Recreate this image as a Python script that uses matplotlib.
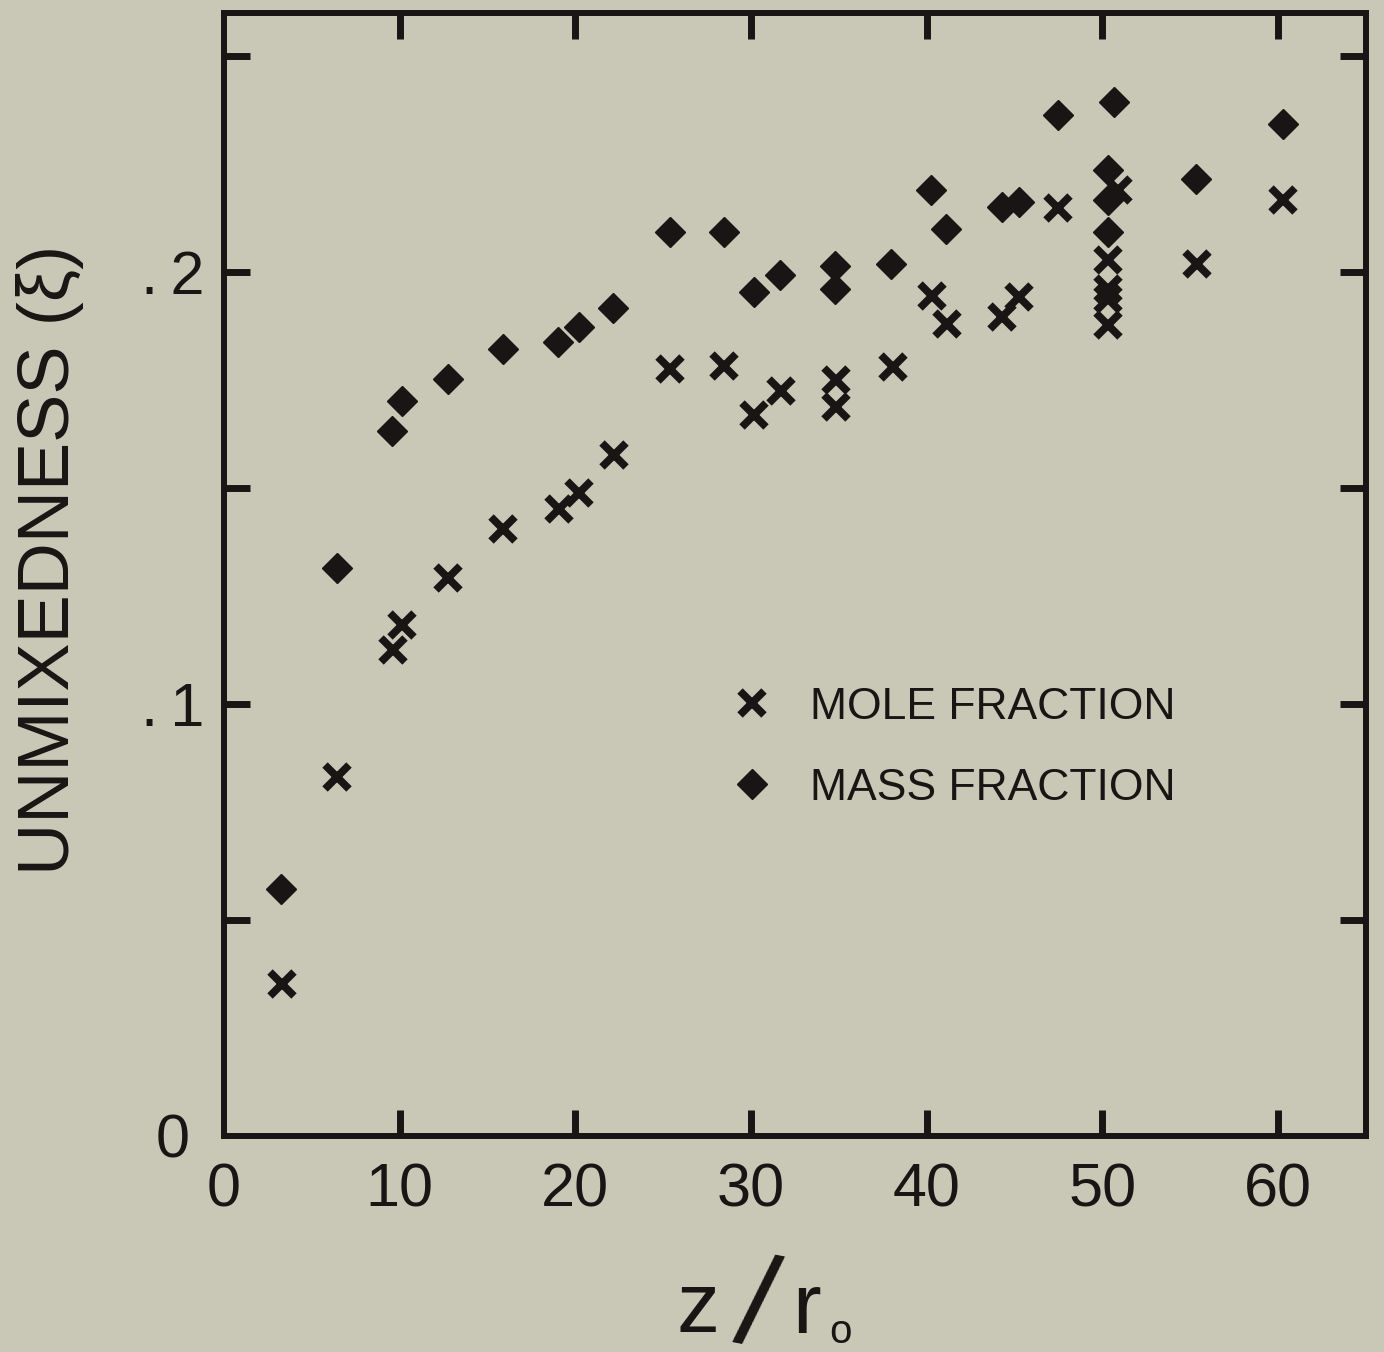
import matplotlib
matplotlib.use('Agg')
import matplotlib.pyplot as plt
from matplotlib import font_manager

# mass fraction (diamonds)
mass_z = [3.25, 6.42, 9.59, 10.12, 12.75, 15.86, 19.01, 20.19, 22.15, 25.36,
          28.47, 30.16, 31.66, 34.78, 34.78, 37.99, 40.23, 41.12, 44.31, 45.26,
          47.45, 50.64, 50.30, 50.30, 50.33, 55.33, 60.30]
mass_xi = [0.0573, 0.1314, 0.1633, 0.1701, 0.1753, 0.1821, 0.1839, 0.1872, 0.1916, 0.2093,
           0.2093, 0.1953, 0.1993, 0.2014, 0.1960, 0.2019, 0.2191, 0.2101, 0.2151, 0.2163,
           0.2363, 0.2394, 0.2236, 0.2167, 0.2093, 0.2215, 0.2344]

# mole fraction (crosses)
mole_z = [3.29, 6.46, 9.61, 10.12, 12.73, 15.86, 19.09, 20.19, 22.18, 25.37,
          28.47, 30.16, 31.72, 34.81, 34.81, 38.08, 40.28, 41.14, 44.31, 45.26,
          47.45, 50.90, 50.33, 50.33, 50.33, 50.33, 55.37, 60.27]
mole_xi = [0.0352, 0.0832, 0.1125, 0.1183, 0.1293, 0.1405, 0.1452, 0.1489, 0.1576, 0.1775,
           0.1783, 0.1669, 0.1725, 0.1750, 0.1688, 0.1781, 0.1944, 0.1881, 0.1897, 0.1943,
           0.2149, 0.2190, 0.2028, 0.1962, 0.1939, 0.1877, 0.2020, 0.2167]

x_ticks = [0, 10, 20, 30, 40, 50, 60]
y_ticks = [0, 0.05, 0.1, 0.15, 0.2, 0.25]
y_ticklabels = ['0', '', '.\u20091', '', '.\u20092', '']

BG = '#c9c8b6'
INK = '#181514'

W, H = 1384, 1352
plt.rcParams['font.family'] = ['Liberation Sans', 'DejaVu Sans']

available = {f.name for f in font_manager.fontManager.ttflist}
if 'Liberation Sans Narrow' in available:
    ylab_family, ylab_size = ['Liberation Sans Narrow', 'DejaVu Sans'], 57
else:
    ylab_family, ylab_size = ['Liberation Sans', 'DejaVu Sans'], 52

fig = plt.figure(figsize=(W / 100, H / 100), dpi=100, facecolor=BG)
ax = fig.add_axes([224 / W, (H - 1136) / H, (1366 - 224) / W, (1136 - 13) / H])
ax.set_facecolor(BG)

ax.plot(mole_z, mole_xi, linestyle='none', marker='x', ms=17, mew=5.5,
        color=INK, label='MOLE FRACTION')
ax.plot(mass_z, mass_xi, linestyle='none', marker='D', ms=15.5, mew=1,
        color=INK, label='MASS FRACTION')

ax.set_xlim(0, 65)
ax.set_ylim(0, 0.26)
ax.set_xticks(x_ticks)
ax.set_yticks(y_ticks)
ax.set_yticklabels(y_ticklabels)

for s in ax.spines.values():
    s.set_linewidth(4.3)
    s.set_color(INK)
ax.tick_params(direction='in', length=19, width=5, color=INK,
               top=True, right=True, labelsize=44, labelcolor=INK)
ax.tick_params(axis='x', pad=19)
ax.tick_params(axis='y', pad=37)
for lab in ax.get_yticklabels():
    lab.set_horizontalalignment('center')
# no tick at the corner
ax.xaxis.get_major_ticks()[0].tick1line.set_visible(False)
ax.xaxis.get_major_ticks()[0].tick2line.set_visible(False)
ax.yaxis.get_major_ticks()[0].tick1line.set_visible(False)
ax.yaxis.get_major_ticks()[0].tick2line.set_visible(False)

ax.legend(loc='upper left', bbox_to_anchor=(730 / W, 1 - 687 / H),
          bbox_transform=fig.transFigure, frameon=False, fontsize=32,
          handlelength=1.0, handletextpad=0.8, labelspacing=0.9,
          borderpad=0, borderaxespad=0, numpoints=1, labelcolor=INK)

ax.set_ylabel('UNMIXEDNESS (ξ)', family=ylab_family, fontsize=ylab_size, color=INK)
ax.yaxis.set_label_coords(84 / W, 1 - 560 / H, transform=fig.transFigure)

# x label  z / r_o
fig.text(676 / W, 1 - 1332 / H, 'z', fontsize=62, color=INK, ha='left', va='baseline')
fig.text(756 / W, 1 - 1312 / H, '/', fontsize=92, color=INK, ha='center', va='center',
         rotation=-11)
fig.text(792 / W, 1 - 1333 / H, 'r', fontsize=62, color=INK, ha='left', va='baseline')
fig.text(829 / W, 1 - 1343 / H, 'o', fontsize=29, color=INK, ha='left', va='baseline')

fig.savefig('out.png', dpi=100, facecolor=BG)
